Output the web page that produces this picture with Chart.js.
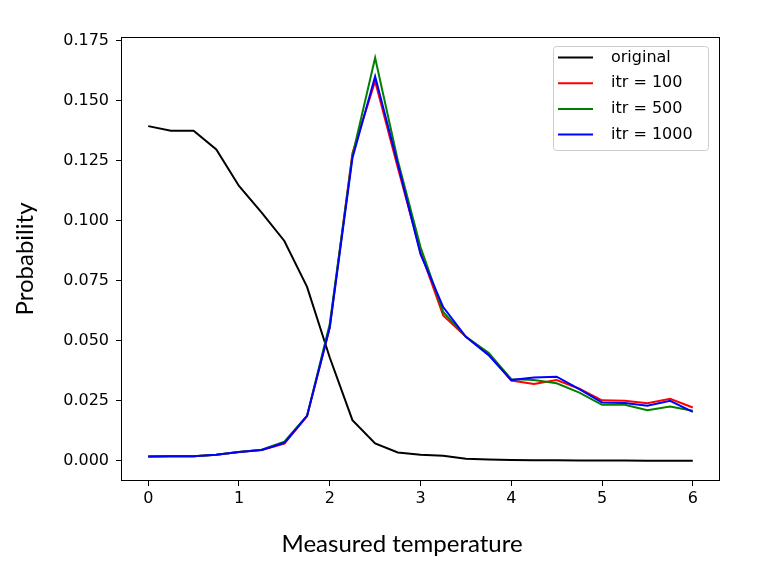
<!DOCTYPE html>
<html lang="en">
<head>
    <meta charset="UTF-8">
    <title>Probability vs measured temperature</title>
    <script src="https://cdn.jsdelivr.net/npm/chart.js"></script>
    <style>
        body { margin: 0; background: #fff; }
        .wrap { width: 768px; height: 576px; }
    </style>
</head>
<body>
    <div class="wrap">
        <canvas id="probChart" width="768" height="576"></canvas>
    </div>
    <script>
        // data
        const temps = [0, 0.25, 0.5, 0.75, 1, 1.25, 1.5, 1.75, 2, 2.25, 2.5, 2.75, 3,
                       3.25, 3.5, 3.75, 4, 4.25, 4.5, 4.75, 5, 5.25, 5.5, 5.75, 6];
        const original = [0.1393, 0.1374, 0.1374, 0.1296, 0.1144, 0.1033, 0.0915, 0.0724, 0.043, 0.0169,
                          0.0072, 0.0035, 0.0025, 0.0021, 0.0009, 0.0005, 0.0003, 0.0002, 0.0002,
                          0.0001, 0.0001, 0.0001, 0.0, 0.0, 0.0];
        const itr100 = [0.0018, 0.0019, 0.0019, 0.0025, 0.0037, 0.0045, 0.0072, 0.0185, 0.0555, 0.128,
                        0.158, 0.122, 0.087, 0.0605, 0.0516, 0.0446, 0.0334, 0.032, 0.0336,
                        0.030, 0.0252, 0.025, 0.024, 0.0258, 0.0222];
        const itr500 = [0.0018, 0.0019, 0.0019, 0.0025, 0.0037, 0.0046, 0.008, 0.0188, 0.057, 0.127,
                        0.1678, 0.125, 0.089, 0.062, 0.0516, 0.045, 0.034, 0.0336, 0.0323,
                        0.0284, 0.0233, 0.0233, 0.0211, 0.0226, 0.0208];
        const itr1000 = [0.0018, 0.0019, 0.0019, 0.0025, 0.0037, 0.0045, 0.0075, 0.0187, 0.0555, 0.126,
                         0.160, 0.1235, 0.086, 0.064, 0.0516, 0.044, 0.0336, 0.0347, 0.035,
                         0.0298, 0.0243, 0.0241, 0.0229, 0.025, 0.0204];
        const xTicks = [0, 1, 2, 3, 4, 5, 6];
        const yTicks = [0, 0.025, 0.05, 0.075, 0.1, 0.125, 0.15, 0.175];

        Chart.defaults.font.family = 'DejaVu Sans';
        Chart.defaults.color = '#000';

        function toPoints(values) {
            return values.map((v, i) => ({ x: temps[i], y: v }));
        }

        // axes frame + boxed legend like matplotlib
        const framePlugin = {
            id: 'frameLegend',
            afterDraw(chart) {
                const ctx = chart.ctx;
                const a = chart.chartArea;
                ctx.save();
                ctx.strokeStyle = '#000';
                ctx.lineWidth = 1;
                ctx.strokeRect(Math.round(a.left) + 0.5, Math.round(a.top) + 0.5,
                    Math.round(a.right - a.left) - 1, Math.round(a.bottom - a.top) - 1);

                const bx = a.right - 167, by = a.top + 9, bw = 155, bh = 104;
                ctx.beginPath();
                ctx.roundRect(bx + 0.5, by + 0.5, bw, bh, 3);
                ctx.fillStyle = 'rgba(255,255,255,0.8)';
                ctx.fill();
                ctx.strokeStyle = '#cccccc';
                ctx.stroke();

                ctx.font = '16px "DejaVu Sans"';
                ctx.textBaseline = 'middle';
                ctx.textAlign = 'left';
                chart.data.datasets.forEach((ds, i) => {
                    const y = by + 11.5 + i * 25.7;
                    ctx.beginPath();
                    ctx.moveTo(bx + 5, y);
                    ctx.lineTo(bx + 40, y);
                    ctx.strokeStyle = ds.borderColor;
                    ctx.lineWidth = 2;
                    ctx.stroke();
                    ctx.fillStyle = '#000';
                    ctx.fillText(ds.label, bx + 58, y);
                });
                ctx.restore();
            }
        };

        const ctx = document.getElementById('probChart').getContext('2d');
        const probChart = new Chart(ctx, {
            type: 'line',
            data: {
                datasets: [
                    { label: 'original', data: toPoints(original), borderColor: '#000000', order: 3 },
                    { label: 'itr = 100', data: toPoints(itr100), borderColor: '#ff0000', order: 2 },
                    { label: 'itr = 500', data: toPoints(itr500), borderColor: '#008000', order: 1 },
                    { label: 'itr = 1000', data: toPoints(itr1000), borderColor: '#0000ff', order: 0 }
                ]
            },
            options: {
                responsive: false,
                animation: false,
                devicePixelRatio: 1,
                layout: { padding: { top: 37, right: 48, left: 0, bottom: 0 } },
                elements: {
                    point: { radius: 0 },
                    line: { borderWidth: 2, tension: 0, fill: false }
                },
                plugins: {
                    legend: { display: false },
                    tooltip: { enabled: false }
                },
                scales: {
                    x: {
                        type: 'linear',
                        min: -0.3,
                        max: 6.3,
                        afterBuildTicks: scale => { scale.ticks = xTicks.map(v => ({ value: v })); },
                        afterFit: scale => { scale.height = 95; },
                        ticks: {
                            font: { size: 16 },
                            padding: 3,
                            maxRotation: 0,
                            callback: v => String(v)
                        },
                        grid: { drawOnChartArea: false, tickLength: 5, color: '#000', tickColor: '#000' },
                        border: { display: false },
                        title: {
                            display: true,
                            // trailing spaces nudge the label left, as in the reference
                            text: 'Measured temperature      ',
                            font: { family: 'Lato', size: 24 },
                            padding: { top: 0, bottom: 17 }
                        }
                    },
                    y: {
                        min: -0.0084,
                        max: 0.1764,
                        afterBuildTicks: scale => { scale.ticks = yTicks.map(v => ({ value: v })); },
                        afterFit: scale => { scale.width = 121; },
                        ticks: {
                            font: { size: 16 },
                            padding: 7,
                            callback: v => v.toFixed(3)
                        },
                        grid: { drawOnChartArea: false, tickLength: 5, color: '#000', tickColor: '#000' },
                        border: { display: false },
                        title: {
                            display: true,
                            text: 'Probability',
                            font: { family: 'Lato', size: 24 },
                            padding: { top: 11, bottom: 0 }
                        }
                    }
                }
            },
            plugins: [framePlugin]
        });
    </script>
</body>
</html>
